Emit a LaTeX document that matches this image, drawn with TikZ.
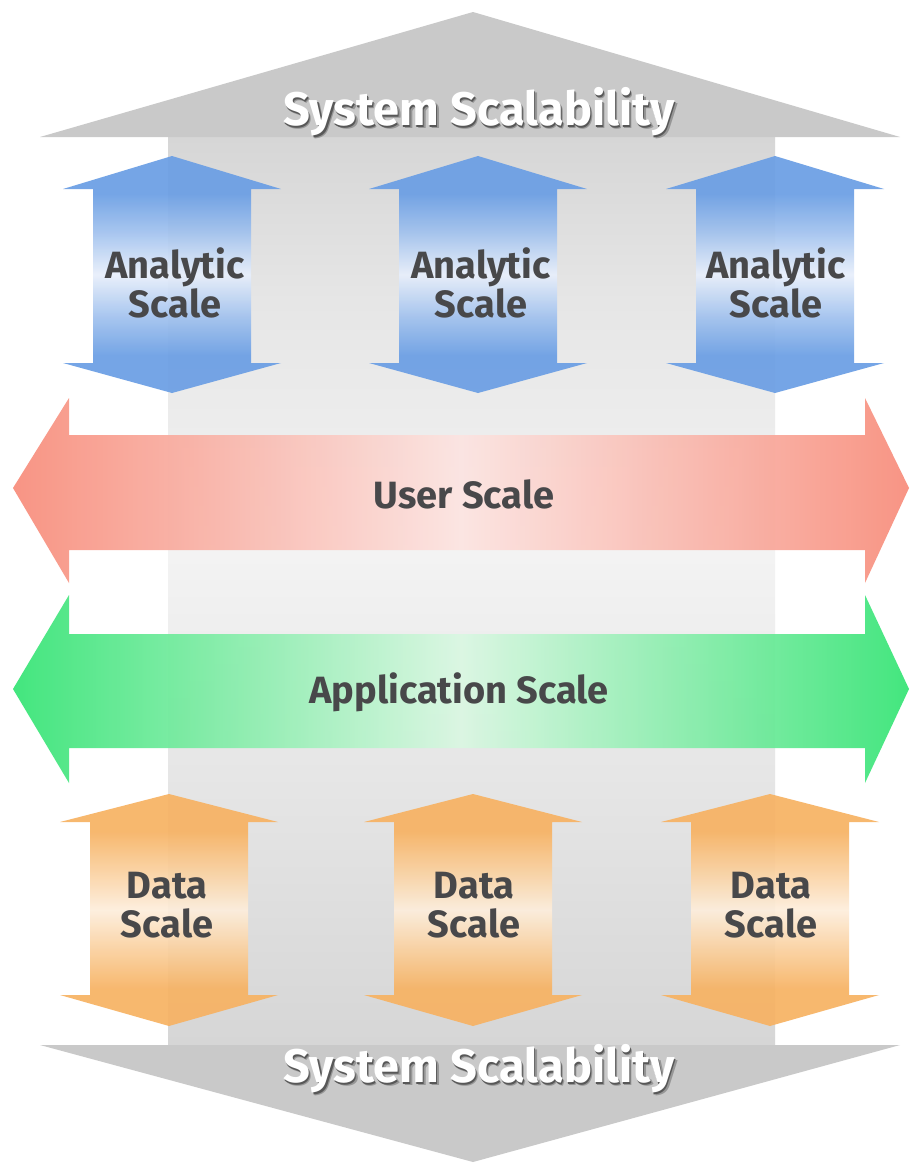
\documentclass[tikz,border=0pt]{standalone}
\usepackage{fontspec}
\setmainfont{Fira Sans}

% palette
\definecolor{textgray}{RGB}{72,72,74}
\definecolor{headgray}{RGB}{201,201,201}
\definecolor{shaftA}{RGB}{214,214,214}
\definecolor{shaftB}{RGB}{230,230,230}
\definecolor{shaftC}{RGB}{243,243,243}
\definecolor{shadowA}{RGB}{88,88,88}
\definecolor{shadowB}{RGB}{150,150,150}
\definecolor{blueA}{RGB}{106,158,228}
\definecolor{blueB}{RGB}{160,193,238}
\definecolor{blueL}{RGB}{232,239,251}
\definecolor{orangeA}{RGB}{247,178,98}
\definecolor{orangeB}{RGB}{250,206,154}
\definecolor{orangeL}{RGB}{253,238,220}
\definecolor{redA}{RGB}{248,140,122}
\definecolor{redL}{RGB}{252,228,225}
\definecolor{greenA}{RGB}{52,228,116}
\definecolor{greenL}{RGB}{218,247,226}

% shadings: the path box maps onto 25bp..75bp
\pgfdeclareverticalshading{shaftshade}{100bp}{color(0bp)=(shaftA); color(25bp)=(shaftA); color(40bp)=(shaftB); color(52bp)=(shaftC); color(66bp)=(shaftB); color(75bp)=(shaftA); color(100bp)=(shaftA)}
\pgfdeclareverticalshading{blueshade}{100bp}{color(0bp)=(blueA); color(25bp)=(blueA); color(33bp)=(blueA); color(41bp)=(blueB); color(50bp)=(blueL); color(59bp)=(blueB); color(67bp)=(blueA); color(75bp)=(blueA); color(100bp)=(blueA)}
\pgfdeclareverticalshading{orangeshade}{100bp}{color(0bp)=(orangeA); color(25bp)=(orangeA); color(33bp)=(orangeA); color(41bp)=(orangeB); color(50bp)=(orangeL); color(59bp)=(orangeB); color(67bp)=(orangeA); color(75bp)=(orangeA); color(100bp)=(orangeA)}
\pgfdeclarehorizontalshading{redshade}{100bp}{color(0bp)=(redA); color(25bp)=(redA); color(50bp)=(redL); color(75bp)=(redA); color(100bp)=(redA)}
\pgfdeclarehorizontalshading{greenshade}{100bp}{color(0bp)=(greenA); color(25bp)=(greenA); color(50bp)=(greenL); color(75bp)=(greenA); color(100bp)=(greenA)}

% white lettering with a soft drop shadow to the lower right
\newcommand\embossed[1]{\leavevmode
  \rlap{\kern2.6pt\raisebox{-3.6pt}{\color{shadowB}#1}}%
  \rlap{\kern1.4pt\raisebox{-2.2pt}{\color{shadowA}#1}}%
  {\color{white}#1}}

\begin{document}
\begin{tikzpicture}[x=1pt,y=-1pt,
  lbl/.style={text=textgray, font=\fontsize{38}{39}\selectfont\bfseries, align=center, inner sep=0pt},
  syslbl/.style={font=\fontsize{47}{47}\selectfont\bfseries, inner sep=0pt, anchor=base},
  vblue/.style={shade, shading=blueshade, fill opacity=0.92},
  vorange/.style={shade, shading=orangeshade, fill opacity=0.92},
  hred/.style={shade, shading=redshade, fill opacity=0.92},
  hgreen/.style={shade, shading=greenshade, fill opacity=0.92},
  % vertical double arrow around x = 0: tip y, head base y, lower head base y, lower tip y
  vdouble/.pic={
    \path[pic actions] (0,\tipT) -- (109,\baseT) -- (79,\baseT) -- (79,\baseB) -- (109,\baseB)
      -- (0,\tipB) -- (-109,\baseB) -- (-79,\baseB) -- (-79,\baseT) -- (-109,\baseT) -- cycle;
  }]

\useasboundingbox (0,0) rectangle (911,1167);
\fill[white] (0,0) rectangle (911,1167);

% system scalability: grey vertical double arrow
\shade[shading=shaftshade] (168,137) rectangle (775,1045);
\fill[headgray] (40,137) -- (473,12) -- (900,137) -- cycle;
\fill[headgray] (40,1045) -- (900,1045) -- (473,1162) -- cycle;

% analytic scale arrows
\def\tipT{156}\def\baseT{189}\def\baseB{363}\def\tipB{393}
\pic[vblue] at (172,0) {vdouble};
\pic[vblue] at (478,0) {vdouble};
\pic[vblue] at (775,0) {vdouble};

% data scale arrows
\def\tipT{794}\def\baseT{822}\def\baseB{995}\def\tipB{1026}
\pic[vorange] at (169,0) {vdouble};
\pic[vorange] at (473,0) {vdouble};
\pic[vorange] at (770,0) {vdouble};

% user scale arrow
\path[hred] (13,488) -- (69,398) -- (69,435) -- (865,435) -- (865,398) -- (909,488)
  -- (865,583) -- (865,550) -- (69,550) -- (69,583) -- cycle;

% application scale arrow
\path[hgreen] (13,689) -- (69,595) -- (69,634) -- (865,634) -- (865,595) -- (909,689)
  -- (865,783) -- (865,748) -- (69,748) -- (69,783) -- cycle;

% labels
\node[syslbl] (sysTop) at (479,125) {\embossed{System Scalability}};
\node[syslbl] (sysBot) at (479,1082) {\embossed{System Scalability}};

\node[lbl] (an1) at (175,283) {Analytic\\Scale};
\node[lbl] (an2) at (481,283) {Analytic\\Scale};
\node[lbl] (an3) at (776,283) {Analytic\\Scale};

\node[lbl, anchor=base] (user) at (464,508) {User Scale};
\node[lbl, anchor=base] (app) at (459,703) {Application Scale};

\node[lbl] (da1) at (167,905) {Data\\Scale};
\node[lbl] (da2) at (474,905) {Data\\Scale};
\node[lbl] (da3) at (771,905) {Data\\Scale};
\end{tikzpicture}
\end{document}
